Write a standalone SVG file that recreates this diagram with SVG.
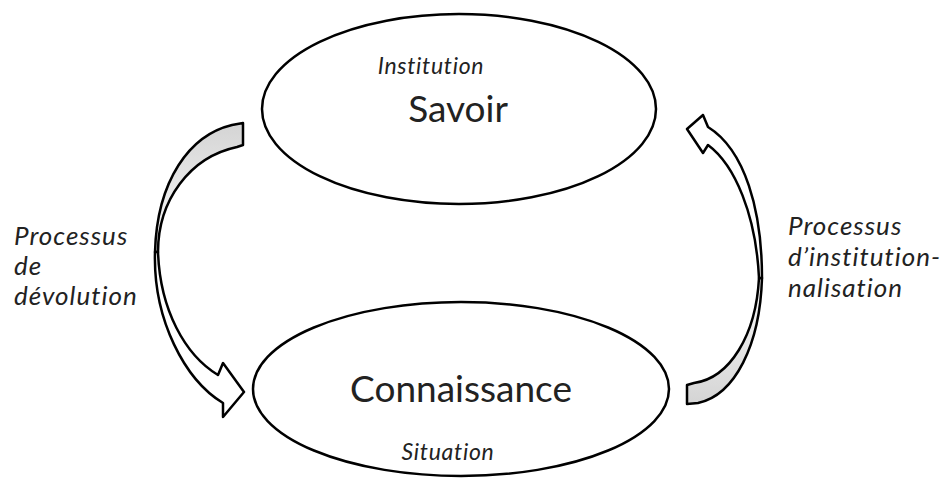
<svg xmlns="http://www.w3.org/2000/svg" width="943" height="479" viewBox="0 0 943 479">
<style>
text{font-family:Lato,"Open Sans",sans-serif;fill:#222;font-variant-ligatures:none;font-feature-settings:"liga" 0,"clig" 0}
.node{fill:#fff;stroke:#000;stroke-width:2.5}
.arr{stroke:#000;stroke-width:2.5;stroke-linejoin:round}
.main{font-size:37px;text-anchor:middle}
.sub{font-style:italic;font-size:23px;letter-spacing:0.7px;text-anchor:middle}
.lbl{font-style:italic;font-size:26px;letter-spacing:1px}
</style>
<defs>
<linearGradient id="gL" x1="0" y1="0" x2="0" y2="1">
<stop offset="0" stop-color="#d4d4d4"/><stop offset="0.5" stop-color="#e8e8e8"/><stop offset="1" stop-color="#fafafa"/>
</linearGradient>
<linearGradient id="gR" x1="0" y1="1" x2="0" y2="0">
<stop offset="0" stop-color="#d4d4d4"/><stop offset="0.5" stop-color="#e8e8e8"/><stop offset="1" stop-color="#fafafa"/>
</linearGradient>
</defs>
<rect width="943" height="479" fill="#fff"/>
<g id="savoir">
<ellipse class="node" cx="459" cy="109" rx="197" ry="95"/>
<text class="sub" x="431" y="74">Institution</text>
<text class="main" x="458" y="122">Savoir</text>
</g>
<g id="connaissance">
<ellipse class="node" cx="461" cy="389" rx="208" ry="87"/>
<text class="main" x="461" y="402">Connaissance</text>
<text class="sub" x="448" y="460">Situation</text>
</g>
<g id="connectors">
<g id="devolution">
<path class="arr" fill="url(#gL)" d="M243 123 L232 125 C190 135 157 180 155 252 L158 252 C158 200 190 157 237 147 L243 145 Z"/>
<path class="arr" fill="#fff" d="M155 252 C153 320 185 380 223 403 L223 417 L244 392 L223 363 L218 375 C185 355 160 310 158 252 Z"/>
</g>
<g id="institutionnalisation">
<path class="arr" fill="url(#gR)" d="M687 404 L698 403 C735 395 760 345 762 278 L759 278 C756 335 730 378 694 383 L687 385 Z"/>
<path class="arr" fill="#fff" d="M762 278 C762 210 745 150 708 127 L703 115 L687 129 L703 153 L708 145 C735 165 756 215 759 278 Z"/>
</g>
</g>
<g id="labels">
<text class="lbl" x="14" y="245">Processus</text>
<text class="lbl" x="14" y="275">de</text>
<text class="lbl" x="14" y="305">dévolution</text>
<text class="lbl" x="788" y="235">Processus</text>
<text class="lbl" x="788" y="266">d’institution-</text>
<text class="lbl" x="788" y="297">nalisation</text>
</g>
</svg>
